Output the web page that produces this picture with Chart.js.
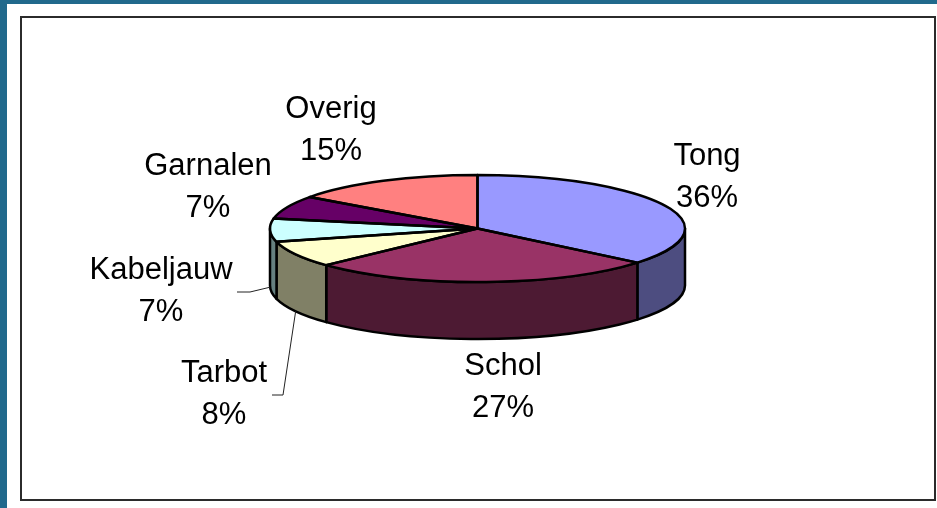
<!DOCTYPE html>
<html>
<head>
<meta charset="utf-8">
<script src="https://cdn.jsdelivr.net/npm/chart.js@4.4.0/dist/chart.umd.min.js"></script>
<style>
  html, body { margin: 0; padding: 0; background: #fff; }
  #wrap { position: absolute; left: 0; top: 0; width: 937px; height: 508px; }
</style>
</head>
<body>
<div id="wrap"><canvas id="c" width="937" height="508"></canvas></div>
<script>
// ---- data ----
const categories = ['Tong', 'Schol', 'Tarbot', 'Kabeljauw', 'Garnalen', 'Overig'];
const shares = [36, 27, 8, 7, 7, 15];
const shareLabels = ['36%', '27%', '8%', '7%', '7%', '15%'];

// ---- styles ----
const topColors = ['#9999FF', '#993366', '#FFFFCC', '#CCFFFF', '#660066', '#FF8080'];
const sideColors = ['#4D4D80', '#4D1A33', '#808066', '#668080', '#330033', '#804040'];

// ---- layout ----
const TILT = 53.5 / 207.5;   // vertical squash of the pie top
const DEPTH = 57;            // thickness of the 3D pie
const LINE_GAP = 42;
const FONT = '31px "Liberation Sans", Arial, sans-serif';
// first-line baseline of each label, relative to the pie centre
const labelOffsets = [[229.5, -63.5], [25.5, 146.5], [-253.5, 153.5], [-316.5, 50.5], [-269.5, -53.5], [-146.5, -110.5]];
// leader lines (start, elbow) relative to pie centre; end is computed on the slice
const leaders = { 2: [[-205.5, 166.5], [-194.5, 166.5]], 3: [[-240.5, 63.5], [-227.5, 63.5]] };

const pie3d = {
  id: 'pie3d',
  beforeDraw(chart) {
    const ctx = chart.ctx;
    ctx.save();
    ctx.fillStyle = '#ffffff';
    ctx.fillRect(0, 0, chart.width, chart.height);
    ctx.fillStyle = '#21698C';
    ctx.fillRect(0, 0, chart.width, 4);
    ctx.fillRect(0, 0, 7, chart.height);
    ctx.strokeStyle = '#2b2b2b';
    ctx.lineWidth = 2;
    ctx.strokeRect(21, 17, 914, 483);
    ctx.restore();
  },
  beforeDatasetsDraw(chart) {
    const ctx = chart.ctx;
    const arcs = chart.getDatasetMeta(0).data;
    const cx = arcs[0].x, cy = arcs[0].y, rx = arcs[0].outerRadius, ry = rx * TILT;
    ctx.save();
    ctx.lineWidth = 2.5;
    ctx.strokeStyle = '#000';
    ctx.lineJoin = 'round';
    arcs.forEach((a, i) => {
      const a1 = Math.max(a.startAngle, 0), a2 = Math.min(a.endAngle, Math.PI);
      if (a2 <= a1) return;
      ctx.beginPath();
      ctx.ellipse(cx, cy, rx, ry, 0, a1, a2, false);
      ctx.lineTo(cx + rx * Math.cos(a2), cy + ry * Math.sin(a2) + DEPTH);
      ctx.ellipse(cx, cy + DEPTH, rx, ry, 0, a2, a1, true);
      ctx.closePath();
      ctx.fillStyle = sideColors[i];
      ctx.fill();
      ctx.stroke();
    });
    ctx.restore();
    ctx.save();
    ctx.translate(0, cy);
    ctx.scale(1, TILT);
    ctx.translate(0, -cy);
  },
  afterDatasetsDraw(chart) {
    const ctx = chart.ctx;
    ctx.restore();
    const arcs = chart.getDatasetMeta(0).data;
    const cx = arcs[0].x, cy = arcs[0].y, rx = arcs[0].outerRadius, ry = rx * TILT;
    ctx.save();
    ctx.lineWidth = 2.5;
    ctx.strokeStyle = '#000';
    ctx.lineJoin = 'round';
    arcs.forEach((a) => {
      ctx.beginPath();
      ctx.moveTo(cx, cy);
      ctx.lineTo(cx + rx * Math.cos(a.startAngle), cy + ry * Math.sin(a.startAngle));
      ctx.ellipse(cx, cy, rx, ry, 0, a.startAngle, a.endAngle, false);
      ctx.closePath();
      ctx.stroke();
    });
    // leader lines
    ctx.lineWidth = 1;
    ctx.strokeStyle = '#222';
    Object.keys(leaders).forEach((k) => {
      const a = arcs[k];
      const m = (a.startAngle + a.endAngle) / 2;
      const [p0, p1] = leaders[k];
      ctx.beginPath();
      ctx.moveTo(cx + p0[0], cy + p0[1]);
      ctx.lineTo(cx + p1[0], cy + p1[1]);
      ctx.lineTo(cx + rx * Math.cos(m), cy + ry * Math.sin(m) + DEPTH);
      ctx.stroke();
    });
    // labels
    ctx.fillStyle = '#000';
    ctx.font = FONT;
    ctx.textAlign = 'center';
    ctx.textBaseline = 'alphabetic';
    categories.forEach((name, i) => {
      const [dx, dy] = labelOffsets[i];
      ctx.fillText(name, cx + dx, cy + dy);
      ctx.fillText(shareLabels[i], cx + dx, cy + dy + LINE_GAP);
    });
    ctx.restore();
  }
};

new Chart(document.getElementById('c'), {
  type: 'pie',
  data: {
    labels: categories,
    datasets: [{
      data: shares,
      backgroundColor: topColors,
      borderWidth: 0,
      clip: false
    }]
  },
  options: {
    responsive: false,
    animation: false,
    devicePixelRatio: 1,
    events: [],
    layout: { padding: { left: 270, right: 252, top: 21, bottom: 72 } },
    plugins: { legend: { display: false }, tooltip: { enabled: false } }
  },
  plugins: [pie3d]
});
</script>
</body>
</html>
